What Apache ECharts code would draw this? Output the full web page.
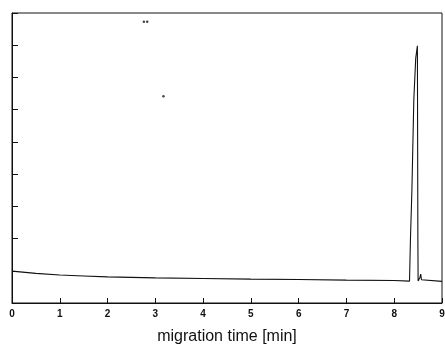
<!DOCTYPE html>
<html>
<head>
<meta charset="utf-8">
<script src="https://cdn.jsdelivr.net/npm/echarts@6/dist/echarts.min.js"></script>
<style>
  html, body { margin: 0; padding: 0; background: #fff; }
  #chart { width: 445px; height: 345px; }
</style>
</head>
<body>
<div id="chart"></div>
<script>
// electropherogram trace
const TIME = [0, 0.5, 1, 1.5, 2, 3, 4, 5, 6, 7, 8, 8.32, 8.33, 8.34, 8.37, 8.38, 8.41, 8.45, 8.485,
  8.49, 8.495, 8.5, 8.52, 8.54, 8.555, 8.57, 8.6, 9];
const SIGNAL = [0.99, 0.92, 0.87, 0.84, 0.81, 0.78, 0.76, 0.74, 0.73, 0.71, 0.7, 0.68, 0.68, 2.0, 3.5, 4.2, 6.3, 7.6, 7.98,
  5.0, 2.0, 0.68, 0.66, 0.8, 0.9, 0.72, 0.67, 0.67];
// stray specks on the scan
const SPECKS = [[2.76, 8.73], [2.83, 8.73], [3.17, 6.42]];
const X_TICKS = [0, 1, 2, 3, 4, 5, 6, 7, 8, 9];
const X_NAME = "migration time [min]";

const INK = "#111";

const chart = echarts.init(document.getElementById("chart"), null, { renderer: "canvas" });

chart.setOption({
  animation: false,
  backgroundColor: "#fff",
  grid: {
    left: 12, right: 3, top: 13, bottom: 42,
    containLabel: false,
    outerBoundsMode: "none",
    show: true,
    borderColor: INK,
    borderWidth: 1
  },
  xAxis: {
    type: "value",
    min: X_TICKS[0],
    max: X_TICKS[X_TICKS.length - 1],
    interval: 1,
    name: X_NAME,
    nameLocation: "middle",
    nameGap: 26,
    nameTextStyle: { fontFamily: "Liberation Sans", fontSize: 16, color: INK },
    axisLine: { lineStyle: { color: INK, width: 1 } },
    axisTick: { inside: true, length: 5, lineStyle: { color: INK } },
    axisLabel: { fontFamily: "Liberation Sans", fontSize: 10, fontWeight: "bold", color: INK, margin: 6 },
    splitLine: { show: false }
  },
  yAxis: {
    type: "value",
    min: 0,
    max: 9,
    interval: 1,
    axisLine: { lineStyle: { color: INK, width: 1 } },
    axisTick: { inside: true, length: 6, lineStyle: { color: INK } },
    axisLabel: { show: false },
    splitLine: { show: false }
  },
  series: [
    {
      type: "line",
      data: TIME.map((t, i) => [t, SIGNAL[i]]),
      showSymbol: false,
      lineStyle: { color: INK, width: 1.1 },
      silent: true
    },
    {
      type: "scatter",
      data: SPECKS,
      symbolSize: 2.5,
      itemStyle: { color: INK },
      silent: true
    }
  ]
});
</script>
</body>
</html>
